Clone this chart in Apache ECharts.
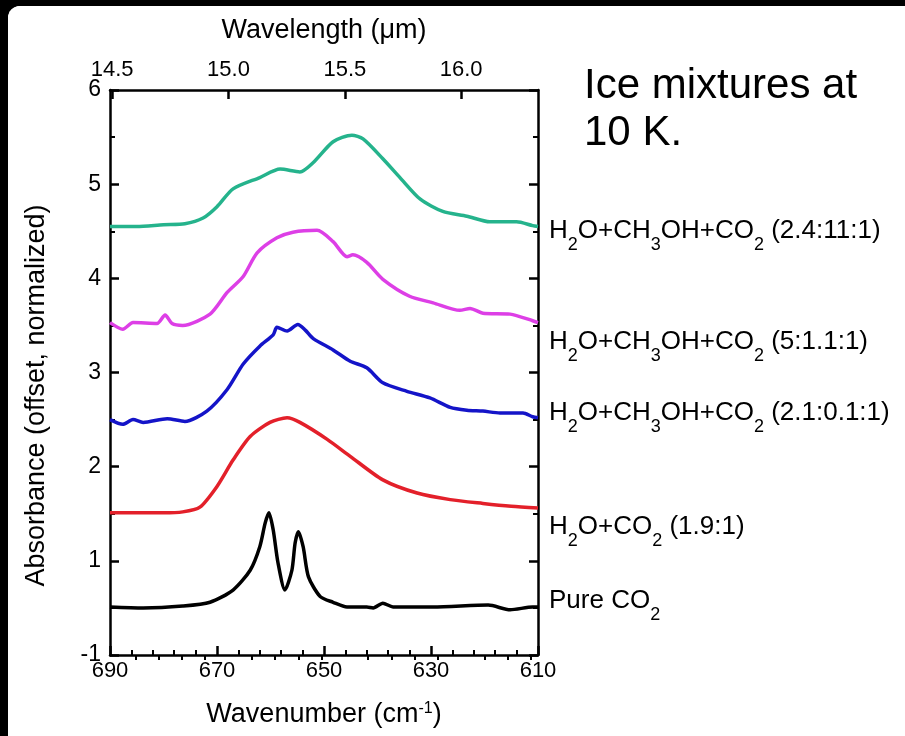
<!DOCTYPE html>
<html><head><meta charset="utf-8">
<script src="https://cdn.jsdelivr.net/npm/echarts@6/dist/echarts.min.js"></script>
<style>
html,body{margin:0;padding:0;background:#000;width:905px;height:736px;overflow:hidden}
#chart{position:absolute;left:8px;top:6px;width:897px;height:730px;background:#fff;border-top-left-radius:12px;overflow:hidden}
</style></head><body><div id="chart"></div>
<script>
// ---- data (wavenumber in cm^-1, absorbance offset/normalized) ----
const wnGreen  = [690, 685, 680, 676, 672.6, 670, 667, 662, 658.2, 654.5, 652, 648.3, 644.8, 642.7, 639, 635.8, 632, 627.8, 623.3, 619, 614, 611, 610];
const absGreen = [4.55, 4.55, 4.57, 4.58, 4.64, 4.76, 4.95, 5.07, 5.16, 5.13, 5.23, 5.45, 5.52, 5.48, 5.27, 5.07, 4.84, 4.71, 4.66, 4.6, 4.6, 4.56, 4.55];

const wnMagenta  = [690, 687.6, 685.7, 681.2, 679.7, 678.4, 676.4, 671.3, 668.1, 665.1, 662.5, 658.8, 655.8, 651.3, 648.3, 645.7, 644.6, 642, 639, 634, 629.6, 624.6, 622.7, 620.3, 615.2, 611, 610];
const absMagenta = [3.53, 3.46, 3.53, 3.52, 3.61, 3.52, 3.5, 3.62, 3.85, 4.02, 4.27, 4.43, 4.49, 4.51, 4.39, 4.23, 4.25, 4.17, 3.99, 3.81, 3.74, 3.66, 3.68, 3.63, 3.62, 3.55, 3.53];

const wnBlue  = [690, 687.6, 685.7, 683.8, 679.3, 676, 671.9, 668.1, 665.1, 662, 659.5, 658.8, 656.9, 654.9, 653.5, 652, 648.3, 645.1, 642, 639, 634.5, 630.2, 626.4, 623.3, 620.3, 617.1, 612.8, 611, 610];
const absBlue = [2.5, 2.45, 2.5, 2.47, 2.51, 2.48, 2.59, 2.82, 3.09, 3.28, 3.4, 3.48, 3.44, 3.51, 3.45, 3.36, 3.24, 3.12, 3.05, 2.89, 2.8, 2.73, 2.63, 2.6, 2.59, 2.57, 2.57, 2.53, 2.52];

const wnRed  = [690, 680, 676.4, 673.2, 670, 667, 663.8, 660.1, 656.9, 654.5, 649.4, 645.1, 639, 632.6, 626.4, 620.3, 615, 610];
const absRed = [1.51, 1.51, 1.52, 1.57, 1.79, 2.07, 2.32, 2.47, 2.52, 2.47, 2.29, 2.11, 1.86, 1.72, 1.65, 1.61, 1.58, 1.56];

const wnBlack  = [690, 683.8, 676.4, 671.3, 667, 663.8, 662, 661, 660.3, 659.5, 658.6, 657.3, 656, 655.4, 654.8, 653.9, 652.9, 650.7, 648.3, 645.7, 642, 640.8, 639, 637.1, 629.6, 619.3, 615.2, 611, 610];
const absBlack = [0.51, 0.5, 0.52, 0.56, 0.69, 0.9, 1.15, 1.4, 1.51, 1.33, 0.98, 0.69, 0.9, 1.19, 1.31, 1.15, 0.83, 0.62, 0.56, 0.51, 0.51, 0.5, 0.55, 0.51, 0.51, 0.53, 0.48, 0.51, 0.51];

const seriesNames = ['Pure CO_2', 'H_2O+CO_2 (1.9:1)', 'H_2O+CH_3OH+CO_2 (2.1:0.1:1)', 'H_2O+CH_3OH+CO_2 (5:1.1:1)', 'H_2O+CH_3OH+CO_2 (2.4:11:1)'];
const seriesColors = ['#000000', '#e3202a', '#1414c8', '#dd3fe6', '#25b38c'];
const labelDy = [-6, 19, -5, 19, 4];

const xMajorTicks = [610, 630, 650, 670, 690];
const xMinorTicks = [686, 682, 678, 674, 666, 662, 658, 654, 646, 642, 638, 634, 626, 622, 618, 614];
const topMajorTicks = [14.5, 15.0, 15.5, 16.0];
const topMinorTicks = [14.6, 14.7, 14.8, 14.9, 15.1, 15.2, 15.3, 15.4, 15.6, 15.7, 15.8, 15.9, 16.1, 16.2, 16.3];
const yTickValues = [0, 1, 2, 3, 4, 5, 6];
const yTickLabels = ['-1', '1', '2', '3', '4', '5', '6'];

// ---- chart ----
const FONT = '"Liberation Sans", Arial, Helvetica, sans-serif';
const LW = 2.5;
function toRich(s) {
  return s.split(/_(\d)/).map((p, i) => i % 2 ? '{s|' + p + '}' : (p ? '{n|' + p + '}' : '')).join('');
}
function pairs(xs, ys) { return xs.map((x, i) => [x, ys[i]]); }
const curves = [
  pairs(wnBlack, absBlack), pairs(wnRed, absRed), pairs(wnBlue, absBlue),
  pairs(wnMagenta, absMagenta), pairs(wnGreen, absGreen)
];

const labelRich = {
  n: { fontSize: 26, lineHeight: 34, fontFamily: FONT, color: '#000' },
  s: { fontSize: 18, lineHeight: 4, padding: [22, 0, 0, 0], verticalAlign: 'top', fontFamily: FONT, color: '#000' }
};

function minorX(pos, min, max, inv, ticks) {
  return {
    type: 'value', position: pos, min: min, max: max, inverse: inv,
    axisLine: { show: false },
    axisTick: { show: true, inside: true, length: 5, customValues: ticks, lineStyle: { color: '#000', width: 2 } },
    axisLabel: { show: false }, splitLine: { show: false }
  };
}

const chart = echarts.init(document.getElementById('chart'));
chart.setOption({
  animation: false,
  backgroundColor: '#fff',
  title: {
    text: 'Ice mixtures at\n10 K.', left: 576, top: 57, padding: 0,
    textStyle: { fontSize: 42, fontWeight: 'normal', lineHeight: 47, color: '#000', fontFamily: FONT }
  },
  grid: { left: 102, right: 367, top: 84, bottom: 81 },
  xAxis: [
    {
      type: 'value', position: 'bottom', min: 610, max: 690, inverse: true,
      axisLine: { show: true, onZero: false, lineStyle: { color: '#000', width: LW } },
      axisTick: { show: true, inside: true, length: 9, customValues: xMajorTicks, lineStyle: { color: '#000', width: LW } },
      axisLabel: { customValues: xMajorTicks, fontSize: 22, margin: 5, color: '#000', fontFamily: FONT },
      splitLine: { show: false },
      name: '{n|Wavenumber (cm}{p|-1}{n|)}', nameLocation: 'middle', nameGap: 43,
      nameTextStyle: {
        rich: {
          n: { fontSize: 27, lineHeight: 34, fontFamily: FONT, color: '#000' },
          p: { fontSize: 16, lineHeight: 4, padding: [3, 0, 0, 0], verticalAlign: 'top', fontFamily: FONT, color: '#000' }
        }
      }
    },
    minorX('bottom', 610, 690, true, xMinorTicks),
    {
      type: 'value', position: 'top', min: 14.491, max: 16.33,
      axisLine: { show: true, onZero: false, lineStyle: { color: '#000', width: LW } },
      axisTick: { show: true, inside: true, length: 9, customValues: topMajorTicks, lineStyle: { color: '#000', width: LW } },
      axisLabel: { customValues: topMajorTicks, fontSize: 22, margin: 9, color: '#000', fontFamily: FONT, formatter: v => v.toFixed(1) },
      splitLine: { show: false },
      name: 'Wavelength (μm)', nameLocation: 'middle', nameGap: 46,
      nameTextStyle: { fontSize: 27, color: '#000', fontFamily: FONT }
    },
    minorX('top', 14.491, 16.33, false, topMinorTicks)
  ],
  yAxis: [
    {
      type: 'value', position: 'left', min: 0, max: 6, interval: 1,
      axisLine: { show: true, onZero: false, lineStyle: { color: '#000', width: LW } },
      axisTick: { show: true, inside: true, length: 9, lineStyle: { color: '#000', width: LW } },
      minorTick: { show: true, splitNumber: 2, length: 5, lineStyle: { color: '#000', width: 2 } },
      axisLabel: { fontSize: 23, margin: 9, color: '#000', fontFamily: FONT, formatter: v => yTickLabels[yTickValues.indexOf(v)] },
      splitLine: { show: false }, minorSplitLine: { show: false },
      name: 'Absorbance (offset, normalized)', nameLocation: 'middle', nameGap: 60, nameRotate: 90,
      nameTextStyle: { fontSize: 27, color: '#000', fontFamily: FONT, padding: [0, 46, 0, 0] }
    },
    {
      type: 'value', position: 'right', min: 0, max: 6, interval: 1,
      axisLine: { show: true, onZero: false, lineStyle: { color: '#000', width: LW } },
      axisTick: { show: true, inside: true, length: 9, lineStyle: { color: '#000', width: LW } },
      minorTick: { show: true, splitNumber: 2, length: 5, lineStyle: { color: '#000', width: 2 } },
      axisLabel: { show: false }, splitLine: { show: false }, minorSplitLine: { show: false }
    }
  ],
  series: curves.map((d, i) => ({
    type: 'line', name: seriesNames[i], data: d, xAxisIndex: 0, yAxisIndex: 0,
    showSymbol: false, symbol: 'none', smooth: 0.25,
    lineStyle: { color: seriesColors[i], width: 3.5 },
    itemStyle: { color: seriesColors[i] },
    endLabel: {
      show: true, formatter: toRich(seriesNames[i]), distance: 0, align: 'left', verticalAlign: 'middle',
      offset: [11, labelDy[i]], rich: labelRich
    },
    z: 2
  }))
});
</script></body></html>
